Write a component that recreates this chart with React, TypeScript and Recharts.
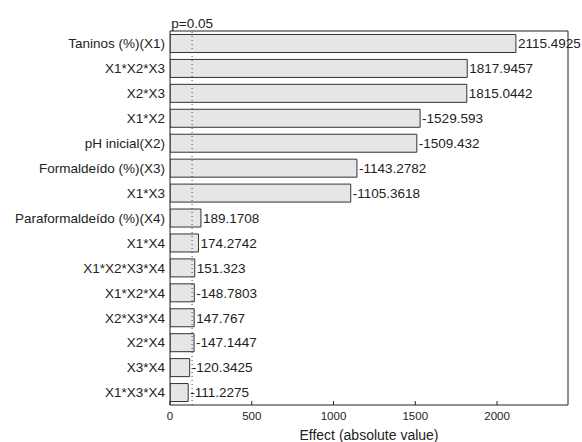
import React from "react";
import {
  Bar,
  BarChart,
  LabelList,
  ReferenceLine,
  XAxis,
  YAxis,
} from "recharts";

const FACTORS = [
  "Taninos (%)(X1)",
  "X1*X2*X3",
  "X2*X3",
  "X1*X2",
  "pH inicial(X2)",
  "Formaldeído (%)(X3)",
  "X1*X3",
  "Paraformaldeído (%)(X4)",
  "X1*X4",
  "X1*X2*X3*X4",
  "X1*X2*X4",
  "X2*X3*X4",
  "X2*X4",
  "X3*X4",
  "X1*X3*X4",
];

// signed effect estimates, bars show the absolute value
const EFFECTS = [
  2115.4925, 1817.9457, 1815.0442, -1529.593, -1509.432, -1143.2782,
  -1105.3618, 189.1708, 174.2742, 151.323, -148.7803, 147.767, -147.1447,
  -120.3425, -111.2275,
];

const X_TICKS = [0, 500, 1000, 1500, 2000];
const X_MAX = 2434;
const P_LIMIT = 135;

const FONT = "'Liberation Sans', Arial, sans-serif";
const TEXT = "#222";
const LINE = "#222";

const data = FACTORS.map((name, i) => ({
  name,
  value: Math.abs(EFFECTS[i]),
  label: String(EFFECTS[i]),
}));

export default function App() {
  return (
    <div style={{ position: "absolute", left: 0, top: 0, background: "#fff" }}>
      <BarChart
        width={582}
        height={442}
        data={data}
        layout="vertical"
        margin={{ top: 11, right: 0, bottom: 0, left: 0 }}
        barCategoryGap="14%"
        style={{ fontFamily: FONT }}
      >
        <XAxis
          type="number"
          dataKey="value"
          domain={[0, X_MAX]}
          ticks={X_TICKS}
          allowDataOverflow
          height={37}
          stroke={LINE}
          tickSize={-4}
          tickMargin={11}
          tick={{ fill: TEXT, fontSize: 11.5 }}
          label={{
            value: "Effect (absolute value)",
            position: "insideBottom",
            offset: 2,
            fill: TEXT,
            fontSize: 14,
          }}
        />
        <XAxis
          xAxisId="top"
          orientation="top"
          type="number"
          domain={[0, X_MAX]}
          ticks={X_TICKS}
          allowDataOverflow
          height={20}
          stroke={LINE}
          tickSize={-4}
          tick={false}
        />
        <YAxis
          type="category"
          dataKey="name"
          width={170}
          stroke={LINE}
          tickLine={false}
          tickSize={0}
          tickMargin={5}
          interval={0}
          tick={{ fill: TEXT, fontSize: 13.5 }}
        />
        <YAxis
          yAxisId="right"
          orientation="right"
          type="category"
          dataKey="name"
          width={14}
          stroke={LINE}
          tickSize={-4}
          interval={0}
          tick={false}
        />
        <Bar
          dataKey="value"
          fill="#e6e6e6"
          stroke="#333"
          strokeWidth={1}
          isAnimationActive={false}
        >
          <LabelList
            dataKey="label"
            position="right"
            offset={2}
            fill={TEXT}
            fontSize={13.5}
          />
        </Bar>
        <ReferenceLine
          x={P_LIMIT}
          stroke="#444"
          strokeDasharray="1 3"
          label={{
            value: "p=0.05",
            position: "top",
            offset: 3,
            fill: TEXT,
            fontSize: 13.5,
          }}
        />
      </BarChart>
    </div>
  );
}
